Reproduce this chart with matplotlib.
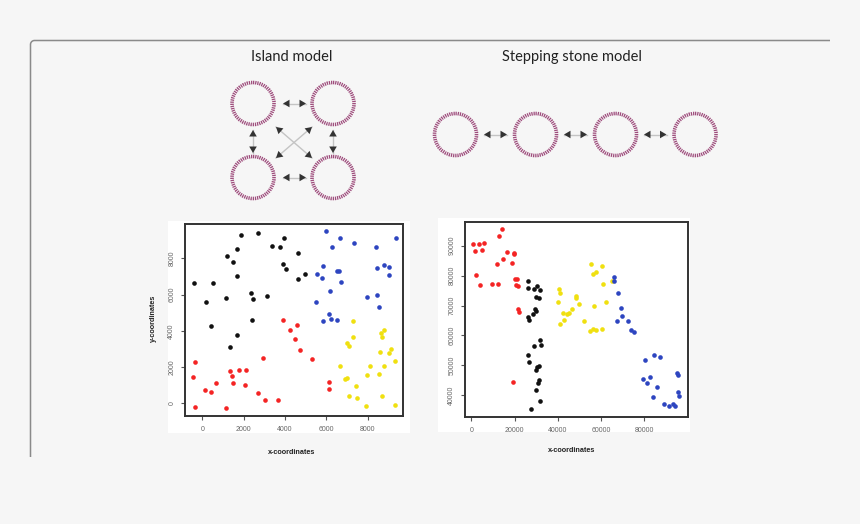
import numpy as np
import matplotlib
matplotlib.use("Agg")
import matplotlib.pyplot as plt
from matplotlib.patches import Circle, Rectangle, Polygon

# ---------------- data ----------------
# Island-model style scatter (left panel)
p1_black_x = [-403, 161, 403, 516, 1145, 1194, 1355, 1500, 1661, 1694, 1678, 1887, 2355, 2468, 2387,
              2710, 3113, 3371, 3742, 3903, 3936, 4065, 4613, 4629, 4968]
p1_black_y = [6657, 5609, 4248, 6639, 5811, 8147, 3090, 7779, 8496, 7007, 3770, 9269, 6087, 5738, 4616,
              9379, 5922, 8698, 8625, 7669, 9103, 7411, 8312, 6841, 7135]
p1_red_x = [-436, -371, -339, 129, 419, 645, 1145, 1339, 1452, 1468, 1774, 2049, 2097, 2710, 2920,
            3049, 3645, 3920, 4242, 4500, 4581, 4710, 5323, 6146, 6146]
p1_red_y = [1434, 2280, -221, 754, 625, 1103, -276, 1784, 1526, 1103, 1857, 993, 1839, 588, 2519,
            184, 202, 4616, 4027, 3568, 4303, 2942, 2464, 1159, 809]
p1_blue_x = [5516, 5565, 5791, 5855, 5984, 5839, 6129, 6162, 6226, 6258, 6533, 6533, 6613, 6662, 6710,
             7339, 7968, 8420, 8452, 8484, 8533, 8775, 9017, 9065, 9388]
p1_blue_y = [5591, 7117, 6896, 7577, 9508, 4542, 4929, 6179, 4634, 8625, 4598, 7301, 7301, 9140, 6676,
             8864, 5848, 8607, 7448, 5958, 5333, 7613, 7099, 7503, 9140]
p1_yellow_x = [6662, 6888, 7000, 6984, 7113, 7081, 7275, 7291, 7420, 7500, 7920, 7952, 8113, 8533, 8597,
               8646, 8710, 8710, 8807, 8823, 9017, 9130, 9339, 9355]
p1_yellow_y = [2060, 1361, 1398, 3329, 3163, 386, 4524, 3660, 975, 276, -166, 1545, 2078, 1637, 2814,
               3862, 3678, 405, 4046, 2078, 2777, 3016, 2317, -110]

# Stepping-stone style scatter (right panel)
p2_red_x = [770, 1541, 3390, 4777, 5702, 2003, 3853, 9554, 12482, 12636, 14177, 11712, 14794, 16335,
            18646, 19879, 19879, 20341, 21266, 20803, 21420, 21420, 21882, 19262]
p2_red_y = [90463, 88236, 90574, 88459, 90909, 80104, 76762, 77319, 77319, 93138, 95589, 84003, 85451,
            87791, 84114, 87567, 87234, 78767, 78990, 76873, 76651, 68853, 67850, 44456]
p2_black_x = [26197, 26197, 26043, 26813, 29125, 30204, 29895, 31128, 31745, 29279, 29895, 28508, 31745,
              32053, 29125, 26351, 26505, 30204, 31128, 29895, 31436, 30666, 29895, 31745, 27584]
p2_black_y = [78322, 75871, 66179, 65065, 75537, 76651, 72863, 72529, 75091, 68853, 68185, 67071, 58604,
              56710, 56487, 53591, 51251, 49469, 49692, 48466, 45013, 44010, 41894, 38218, 35433]
p2_yellow_x = [39912, 40374, 41145, 40990, 42532, 42686, 44073, 45151, 46538, 48387, 48387, 49928, 52240,
               55322, 55168, 56246, 56554, 56709, 57942, 57942, 60407, 60407, 61178, 62565, 65338]
p2_yellow_y = [71192, 75648, 74088, 63840, 67516, 65288, 67182, 67404, 68964, 73197, 72640, 70524, 64731,
               83780, 61389, 80438, 62169, 69855, 81107, 61723, 83223, 62169, 77096, 71081, 78210]
p2_blue_x = [66107, 66107, 67804, 67650, 69191, 69808, 72427, 73968, 75355, 80440, 79361, 81364, 82597,
             83984, 84600, 86141, 87528, 89069, 91535, 93384, 94155, 95079, 95542, 95696, 96004]
p2_blue_y = [79547, 78099, 74200, 64954, 69298, 66513, 64731, 61834, 61166, 51808, 45347, 44122, 46127,
             39554, 53368, 42785, 52811, 37215, 36547, 37215, 36547, 47575, 46907, 41003, 39666]

p1_xticks = [0, 2000, 4000, 6000, 8000]
p1_yticks = [0, 2000, 4000, 6000, 8000]
p2_xticks = [0, 20000, 40000, 60000, 80000]
p2_yticks = [40000, 50000, 60000, 70000, 80000, 90000]

titles = ["Island model", "Stepping stone model"]
xlabel = "x-coordinates"
ylabel = "y-coordinates"

# ---------------- styling ----------------
BG = "#f6f6f6"
RED, BLACK, BLUE, YELLOW = "#f42424", "#111111", "#2d45c0", "#f0e010"
RING = "#9e4c7c"

W, H = 860, 524
fig = plt.figure(figsize=(W / 100, H / 100), dpi=100, facecolor=BG)
ax0 = fig.add_axes([0, 0, 1, 1])
ax0.set_xlim(0, W)
ax0.set_ylim(H, 0)
ax0.axis("off")
ax0.set_facecolor(BG)

# panel border with rounded top-left corner
r = 4
x0, y0, x1, y1 = 30.5, 40.5, 830, 457
th = np.linspace(np.pi, 1.5 * np.pi, 12)
bx = [x0, x0] + list(x0 + r + r * np.cos(th)) + [x1]
by = [y1, y0 + r] + list(y0 + r + r * np.sin(th)) + [y0]
ax0.plot(bx, by, color="#8a8a8a", lw=1.1, solid_capstyle="butt")

# titles
ax0.text(292, 57, titles[0], ha="center", va="center", fontsize=10.5, family="Lato", color="#222")
ax0.text(572, 57, titles[1], ha="center", va="center", fontsize=10.5, family="Lato", color="#222")


def ring(cx, cy, rad=21):
    ax0.add_patch(Circle((cx, cy), rad, fill=False, edgecolor=RING, lw=2.6,
                         linestyle=(0, (0.35, 0.25))))


def dbl_arrow(p, q, head=6.5, half=3.8):
    p = np.array(p, float)
    q = np.array(q, float)
    d = (q - p) / np.linalg.norm(q - p)
    n = np.array([-d[1], d[0]])
    ax0.plot([p[0], q[0]], [p[1], q[1]], color="#c4c4c4", lw=1.0, zorder=2)
    for tip, dd in ((p, -d), (q, d)):
        base = tip - dd * head
        tri = [tip, base + n * half, base - n * half]
        ax0.add_patch(Polygon(tri, closed=True, color="#333333", zorder=3, lw=0))


# island model: 4 rings
isl_x = [253, 333]
isl_y = [103.5, 177.5]
for cx in isl_x:
    for cy in isl_y:
        ring(cx, cy)
dbl_arrow((283, 103.5), (306, 103.5))
dbl_arrow((283, 177.5), (306, 177.5))
dbl_arrow((253, 130), (253, 153))
dbl_arrow((333, 130), (333, 153))
dbl_arrow((276, 127), (312, 158))
dbl_arrow((312, 127), (276, 158))

# stepping stone: 4 rings in a row
ss_x = [455.5, 535.5, 615.5, 695]
ss_y = 134.5
for cx in ss_x:
    ring(cx, ss_y)
for a, b in zip(ss_x[:-1], ss_x[1:]):
    dbl_arrow((a + 28.5, ss_y), (b - 28.5, ss_y))

# white image areas behind the scatter plots
ax0.add_patch(Rectangle((168, 221), 242, 212, color="white", lw=0, zorder=0))
ax0.add_patch(Rectangle((438, 218), 252, 214, color="white", lw=0, zorder=0))


def px_axes(left, top, right, bottom):
    return fig.add_axes([left / W, (H - bottom) / H, (right - left) / W, (bottom - top) / H])


def style(ax):
    ax.set_facecolor("white")
    for s in ax.spines.values():
        s.set_linewidth(1.4)
        s.set_color("#333333")
    ax.tick_params(direction="out", length=3, width=0.8, color="#555555",
                   labelsize=5, labelcolor="#666666", pad=4)
    for lab in ax.get_yticklabels():
        lab.set_rotation(90)
        lab.set_va("center")
    for lab in ax.get_xticklabels() + ax.get_yticklabels():
        lab.set_family("Liberation Sans")


S = 11
ax1 = px_axes(185, 224, 403, 416)
ax1.scatter(p1_black_x, p1_black_y, s=S, color=BLACK, lw=0)
ax1.scatter(p1_red_x, p1_red_y, s=S, color=RED, lw=0)
ax1.scatter(p1_blue_x, p1_blue_y, s=S, color=BLUE, lw=0)
ax1.scatter(p1_yellow_x, p1_yellow_y, s=S, color=YELLOW, lw=0)
ax1.set_xlim(-838, 9719)
ax1.set_ylim(-700, 9893)
ax1.set_xticks(p1_xticks)
ax1.set_yticks(p1_yticks)
style(ax1)

ax2 = px_axes(465, 222, 688, 417)
ax2.scatter(p2_red_x, p2_red_y, s=S, color=RED, lw=0)
ax2.scatter(p2_black_x, p2_black_y, s=S, color=BLACK, lw=0)
ax2.scatter(p2_yellow_x, p2_yellow_y, s=S, color=YELLOW, lw=0)
ax2.scatter(p2_blue_x, p2_blue_y, s=S, color=BLUE, lw=0)
ax2.set_xlim(-2928, 100319)
ax2.set_ylim(32759, 97928)
ax2.set_xticks(p2_xticks)
ax2.set_yticks(p2_yticks)
style(ax2)

# axis labels
ax0.text(292, 452, xlabel, ha="center", va="center", fontsize=5.2, weight="bold",
         family="Liberation Sans", color="#222")
ax0.text(572, 451, xlabel, ha="center", va="center", fontsize=5.2, weight="bold",
         family="Liberation Sans", color="#222")
ax0.text(153, 318, ylabel, ha="center", va="center", rotation=90, fontsize=5.2, weight="bold",
         family="Liberation Sans", color="#222")

fig.savefig("out.png", dpi=100, facecolor=BG)
